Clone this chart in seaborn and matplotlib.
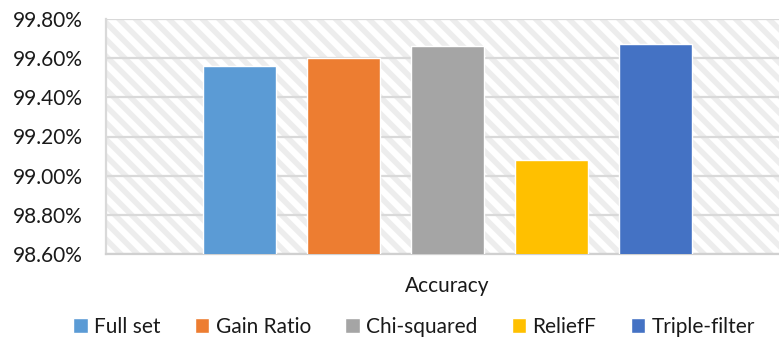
import matplotlib
matplotlib.use("Agg")
import matplotlib.pyplot as plt
from matplotlib.patches import Rectangle
from matplotlib.ticker import FuncFormatter, MultipleLocator
import pandas as pd
import seaborn as sns

# Accuracy (%) of the classifier for each feature-selection method
metric = ["Accuracy"]
methods = ["Full set", "Gain Ratio", "Chi-squared", "ReliefF", "Triple-filter"]
accuracy = [99.56, 99.60, 99.66, 99.08, 99.67]
colors = ["#5b9bd5", "#ed7d31", "#a5a5a5", "#ffc000", "#4472c4"]

df = pd.DataFrame({
    "metric": metric * len(methods),
    "method": methods,
    "accuracy": accuracy,
})

sns.set_theme(style="white")
plt.rcParams["font.family"] = ["Lato", "DejaVu Sans"]
plt.rcParams["hatch.linewidth"] = 4.0

fig = plt.figure(figsize=(7.79, 3.5), dpi=100)
ax = fig.add_axes([106 / 779, 96 / 350, 683 / 779, 235 / 350])

# hatched plot-area background
bg = Rectangle((0, 0), 1, 1, transform=ax.transAxes, facecolor="white",
               edgecolor="#ededed", hatch="\\\\", linewidth=0, zorder=0)
ax.add_patch(bg)

sns.barplot(data=df, x="metric", y="accuracy", hue="method",
            hue_order=methods, palette=colors, saturation=1,
            width=0.762, gap=0.3, ax=ax, zorder=3)

ax.set_ylim(98.6, 99.8)
ax.set_xlim(-0.5, 0.5)
ax.yaxis.set_major_locator(MultipleLocator(0.2))
ax.yaxis.set_major_formatter(FuncFormatter(lambda v, _: f"{v:.2f}%"))
ax.grid(axis="y", color="#d9d9d9", linewidth=1.6, zorder=1)
ax.set_axisbelow(True)
ax.set_xlabel("")
ax.set_ylabel("")
ax.tick_params(axis="y", length=0, pad=17, labelsize=15, labelcolor="#1a1a1a")
ax.tick_params(axis="x", length=0, pad=16, labelsize=15, labelcolor="#1a1a1a")

for side in ["top", "right"]:
    ax.spines[side].set_visible(False)
ax.spines["left"].set_color("#d9d9d9")
ax.spines["left"].set_linewidth(1.6)
ax.spines["bottom"].set_color("#d0d0d0")
ax.spines["bottom"].set_linewidth(1.6)

handles, labels = ax.get_legend_handles_labels()
ax.get_legend().remove()
fig.legend(handles, labels, loc="center", ncol=5, frameon=False,
           bbox_to_anchor=(414 / 779, 1 - 327 / 350), fontsize=15,
           handlelength=0.7, handleheight=0.7, handletextpad=0.3,
           columnspacing=1.65, labelcolor="#1a1a1a")

fig.savefig("out.png", dpi=100)
